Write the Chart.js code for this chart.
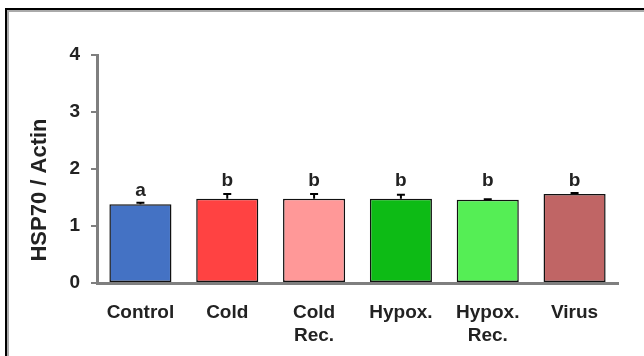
<!DOCTYPE html>
<html>
<head>
<meta charset="utf-8">
<script src="https://cdn.jsdelivr.net/npm/chart.js@4"></script>
<style>
    body { margin: 0; background: #fff; }
    #wrap { position: relative; width: 644px; height: 356px; overflow: hidden; }
    #frame {
        position: absolute; left: 5px; top: 8px; width: 700px; height: 400px;
        border-top: 2px solid #000; border-left: 2px solid #000;
        box-shadow: inset 2px 2px 0 #aaa;
    }
    canvas { position: absolute; left: 0; top: 0; }
</style>
</head>
<body>
<div id="wrap">
    <div id="frame"></div>
    <canvas id="hspChart" width="644" height="356"></canvas>
</div>
<script>
const groupLabels = ['Control', 'Cold', ['Cold', 'Rec.'], 'Hypox.', ['Hypox.', 'Rec.'], 'Virus'];
const hspMeans = [1.38, 1.48, 1.48, 1.48, 1.46, 1.56];
const hspErrors = [0.03, 0.08, 0.08, 0.07, 0.01, 0.02];
const sigLetters = ['a', 'b', 'b', 'b', 'b', 'b'];
const barColors = ['#4472C4', '#FF4242', '#FF9898', '#0DBB15', '#55EE55', '#C06565'];
const yTicks = [0, 1, 2, 3, 4];
const yTitle = 'HSP70 / Actin';

const FONT = 'Liberation Sans, Arial, sans-serif';

// error bars, significance letters and the rotated axis title
const extras = {
    id: 'extras',
    afterDatasetsDraw(chart) {
        const ctx = chart.ctx;
        const meta = chart.getDatasetMeta(0);
        const y = chart.scales.y;
        ctx.save();
        ctx.strokeStyle = '#000';
        ctx.lineWidth = 2;
        meta.data.forEach(function (bar, i) {
            const top = y.getPixelForValue(hspMeans[i] + hspErrors[i]);
            ctx.beginPath();
            ctx.moveTo(bar.x, bar.y);
            ctx.lineTo(bar.x, top);
            ctx.moveTo(bar.x - 4, top);
            ctx.lineTo(bar.x + 4, top);
            ctx.stroke();
        });
        // letters of one group share the height of the tallest bar in it
        ctx.fillStyle = '#222';
        ctx.font = 'bold 19px ' + FONT;
        ctx.textAlign = 'center';
        ctx.textBaseline = 'alphabetic';
        meta.data.forEach(function (bar, i) {
            let top = Infinity;
            sigLetters.forEach(function (l, j) {
                if (l === sigLetters[i]) {
                    top = Math.min(top, y.getPixelForValue(hspMeans[j] + hspErrors[j]));
                }
            });
            ctx.fillText(sigLetters[i], bar.x, top - 7);
        });
        ctx.translate(40, 190);
        ctx.rotate(-Math.PI / 2);
        ctx.textBaseline = 'middle';
        ctx.font = 'bold 22px ' + FONT;
        ctx.fillText(yTitle, 0, 0);
        ctx.restore();
    }
};

function hspChart(id) {
    const data = {
        labels: groupLabels,
        datasets: [{
                label: yTitle,
                data: hspMeans,
                backgroundColor: barColors,
                borderColor: '#111',
                borderWidth: 1.5,
                borderSkipped: false,
                barPercentage: 0.715,
                categoryPercentage: 1
            }]
    };
    const config = {
        type: 'bar',
        data: data,
        options: {
            responsive: false,
            animation: false,
            devicePixelRatio: 1,
            layout: { padding: { left: 0, right: 26, top: 55, bottom: 0 } },
            plugins: { legend: { display: false }, tooltip: { enabled: false } },
            scales: {
                x: {
                    afterFit: function (scale) { scale.height = 73; },
                    grid: { display: false },
                    border: { display: true, color: '#7f7f7f', width: 3 },
                    ticks: {
                        color: '#222',
                        padding: 10,
                        maxRotation: 0,
                        autoSkip: false,
                        font: { family: FONT, size: 19, weight: 'bold', lineHeight: 1.22 }
                    }
                },
                y: {
                    min: 0,
                    max: 4,
                    afterFit: function (scale) { scale.width = 97; },
                    afterBuildTicks: function (scale) {
                        scale.ticks = yTicks.map(function (v) { return { value: v }; });
                    },
                    grid: {
                        drawOnChartArea: false,
                        color: '#7f7f7f',
                        lineWidth: 2,
                        tickLength: 6
                    },
                    border: { display: true, color: '#7f7f7f', width: 3 },
                    ticks: {
                        color: '#222',
                        padding: 11,
                        font: { family: FONT, size: 19, weight: 'bold' }
                    }
                }
            }
        },
        plugins: [extras]
    };
    let ctx = document.getElementById(id).getContext("2d")
    new Chart(ctx, config)
}

hspChart('hspChart');
</script>
</body>
</html>
